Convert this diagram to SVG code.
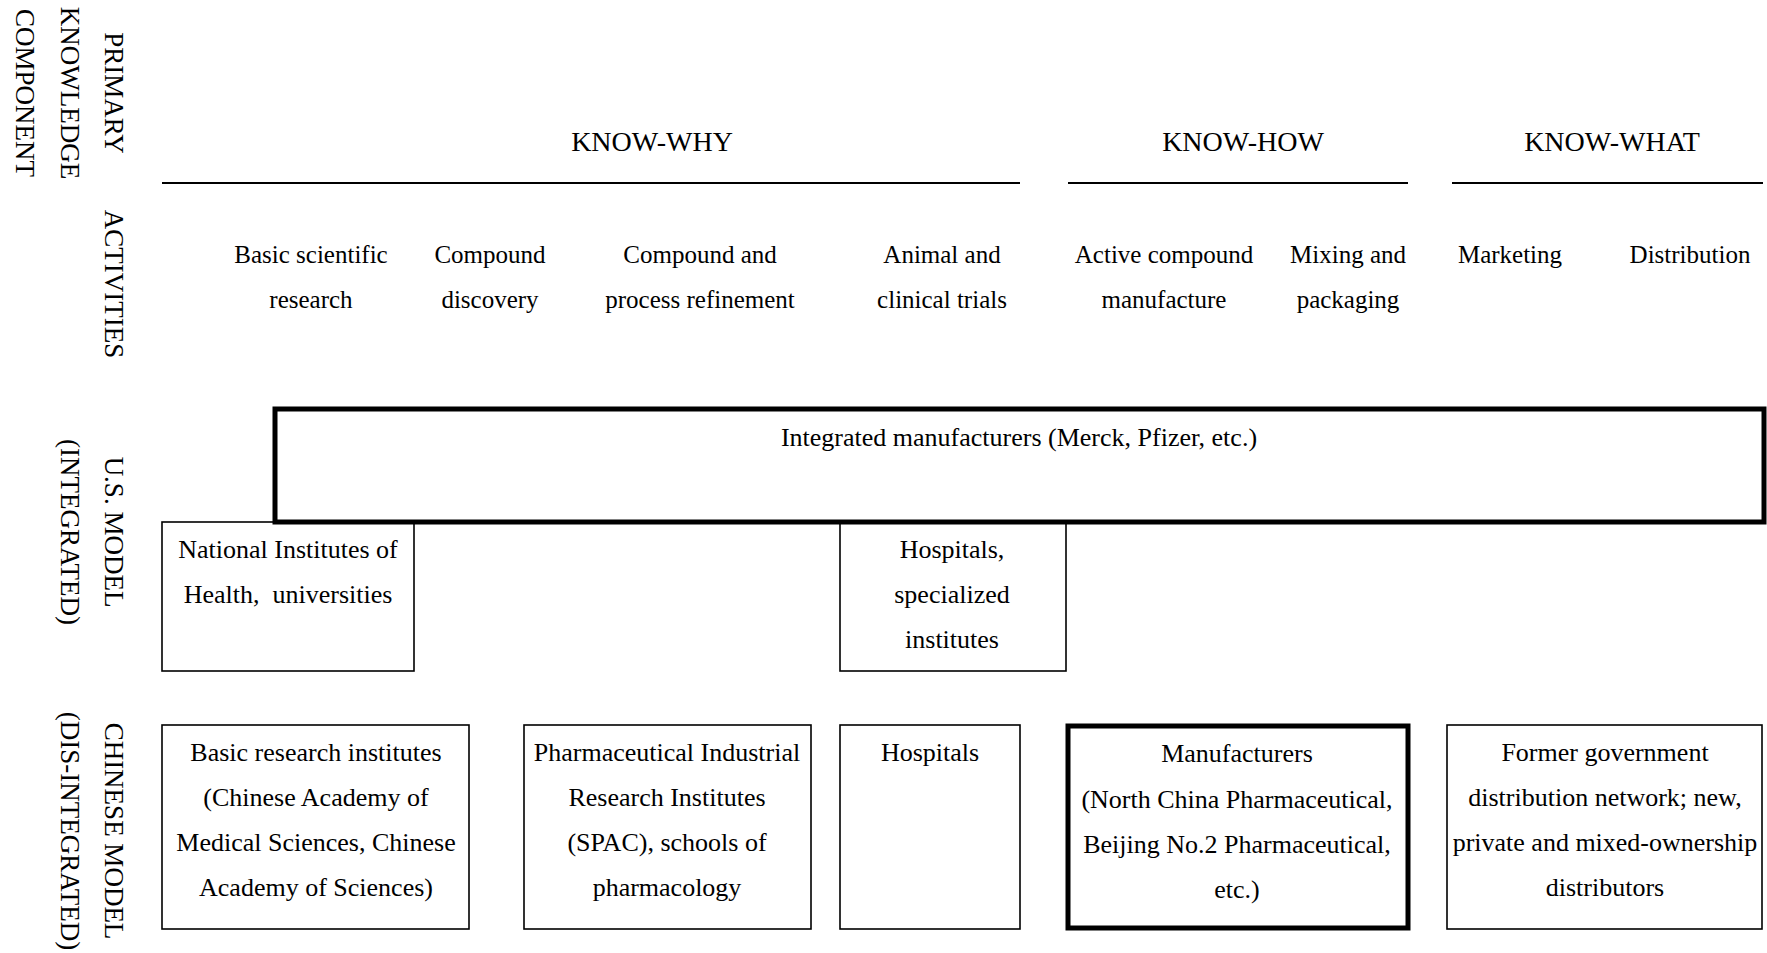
<svg xmlns="http://www.w3.org/2000/svg" width="1767" height="953" viewBox="0 0 1767 953">
<style>
text{font-family:"Liberation Serif","Times New Roman",serif;fill:#000;}
.h{font-size:28px;text-anchor:middle;}
.a{font-size:25px;text-anchor:middle;}
.b{font-size:26px;text-anchor:middle;}
.v{font-size:27px;text-anchor:middle;}
.thin{fill:#fff;stroke:#000;stroke-width:1.6;}
.thick{fill:#fff;stroke:#000;stroke-width:5;}
.rule{stroke:#000;stroke-width:2;}
</style>
<rect width="1767" height="953" fill="#fff"/>
<g id="row-labels">
<text class="v" transform="translate(105,93) rotate(90)">PRIMARY</text>
<text class="v" transform="translate(61,93) rotate(90)">KNOWLEDGE</text>
<text class="v" transform="translate(16,93) rotate(90)">COMPONENT</text>
<text class="v" transform="translate(105,284) rotate(90)">ACTIVITIES</text>
<text class="v" transform="translate(105,532) rotate(90)">U.S. MODEL</text>
<text class="v" transform="translate(61,532) rotate(90)">(INTEGRATED)</text>
<text class="v" transform="translate(105,831) rotate(90)">CHINESE MODEL</text>
<text class="v" transform="translate(61,831) rotate(90)">(DIS-INTEGRATED)</text>
</g>
<g id="headers">
<text class="h" x="652" y="151">KNOW-WHY</text>
<text class="h" x="1243" y="151">KNOW-HOW</text>
<text class="h" x="1612" y="151">KNOW-WHAT</text>
<line class="rule" x1="162" y1="183" x2="1020" y2="183"/>
<line class="rule" x1="1068" y1="183" x2="1408" y2="183"/>
<line class="rule" x1="1452" y1="183" x2="1763" y2="183"/>
</g>
<g id="activities">
<text class="a" x="311" y="263">Basic scientific</text>
<text class="a" x="311" y="308">research</text>
<text class="a" x="490" y="263">Compound</text>
<text class="a" x="490" y="308">discovery</text>
<text class="a" x="700" y="263">Compound and</text>
<text class="a" x="700" y="308">process refinement</text>
<text class="a" x="942" y="263">Animal and</text>
<text class="a" x="942" y="308">clinical trials</text>
<text class="a" x="1164" y="263">Active compound</text>
<text class="a" x="1164" y="308">manufacture</text>
<text class="a" x="1348" y="263">Mixing and</text>
<text class="a" x="1348" y="308">packaging</text>
<text class="a" x="1510" y="263">Marketing</text>
<text class="a" x="1690" y="263">Distribution</text>
</g>
<g id="us-nih">
<rect class="thin" x="162" y="522" width="252" height="149"/>
<text class="b" x="288" y="558">National Institutes of</text>
<text class="b" x="288" y="603" xml:space="preserve">Health,  universities</text>
</g>
<g id="us-hospitals">
<rect class="thin" x="840" y="522" width="226" height="149"/>
<text class="b" x="952" y="558">Hospitals,</text>
<text class="b" x="952" y="603">specialized</text>
<text class="b" x="952" y="648">institutes</text>
</g>
<g id="us-integrated">
<rect class="thick" x="275" y="409" width="1489" height="113"/>
<text class="b" x="1019" y="446">Integrated manufacturers (Merck, Pfizer, etc.)</text>
</g>
<g id="cn-basic">
<rect class="thin" x="162" y="725" width="307" height="204"/>
<text class="b" x="316" y="761">Basic research institutes</text>
<text class="b" x="316" y="806">(Chinese Academy of</text>
<text class="b" x="316" y="851">Medical Sciences, Chinese</text>
<text class="b" x="316" y="896">Academy of Sciences)</text>
</g>
<g id="cn-pharma">
<rect class="thin" x="524" y="725" width="287" height="204"/>
<text class="b" x="667" y="761">Pharmaceutical Industrial</text>
<text class="b" x="667" y="806">Research Institutes</text>
<text class="b" x="667" y="851">(SPAC), schools of</text>
<text class="b" x="667" y="896">pharmacology</text>
</g>
<g id="cn-hospitals">
<rect class="thin" x="840" y="725" width="180" height="204"/>
<text class="b" x="930" y="761">Hospitals</text>
</g>
<g id="cn-manufacturers">
<rect class="thick" x="1068" y="726" width="340" height="202"/>
<text class="b" x="1237" y="762">Manufacturers</text>
<text class="b" x="1237" y="808">(North China Pharmaceutical,</text>
<text class="b" x="1237" y="853">Beijing No.2 Pharmaceutical,</text>
<text class="b" x="1237" y="898">etc.)</text>
</g>
<g id="cn-distribution">
<rect class="thin" x="1447" y="725" width="315" height="204"/>
<text class="b" x="1605" y="761">Former government</text>
<text class="b" x="1605" y="806">distribution network; new,</text>
<text class="b" x="1605" y="851">private and mixed-ownership</text>
<text class="b" x="1605" y="896">distributors</text>
</g>
<g id="connectors"></g>
</svg>
